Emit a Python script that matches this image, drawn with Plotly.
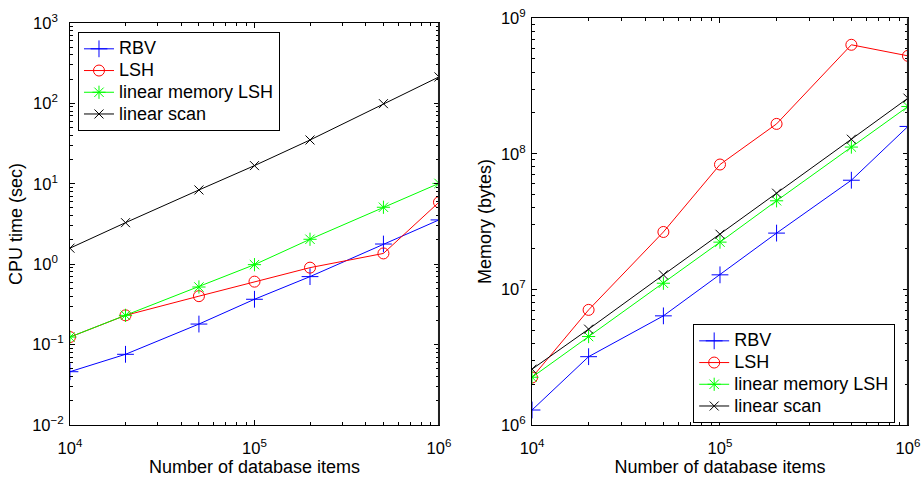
import plotly.graph_objects as go

items = [1e4, 2e4, 5e4, 1e5, 2e5, 5e5, 1e6]
series_names = ["RBV", "LSH", "linear memory LSH", "linear scan"]

cpu_rbv = [0.046, 0.0757, 0.18, 0.366, 0.70, 1.78, 3.55]
cpu_lsh = [0.124, 0.231, 0.40, 0.606, 0.905, 1.36, 5.89]
cpu_lmlsh = [0.124, 0.231, 0.52, 0.986, 2.04, 5.1, 10.1]
cpu_scan = [1.58, 3.28, 8.37, 16.8, 35.0, 99.0, 213.0]

mem_rbv = [1.29e6, 3.19e6, 6.38e6, 1.28e7, 2.6e7, 6.38e7, 1.59e8]
mem_lsh = [2.24e6, 7.06e6, 2.65e7, 8.33e7, 1.66e8, 6.36e8, 5.27e8]
mem_lmlsh = [2.25e6, 4.49e6, 1.11e7, 2.23e7, 4.5e7, 1.12e8, 2.23e8]
mem_scan = [2.58e6, 5.09e6, 1.28e7, 2.55e7, 5.12e7, 1.28e8, 2.57e8]

x_exps = [4, 5, 6]
cpu_exps = [-2, -1, 0, 1, 2, 3]
mem_exps = [6, 7, 8, 9]

colors = ["#0000FF", "#FF0000", "#00FF00", "#000000"]
symbols = ["cross-thin-open", "circle-open", "asterisk-open", "x-thin-open"]
sizes = [12, 11, 11, 9]


def legend_label(name):
    return '<span style="font-size:18px">%s</span>' % name


fig = go.Figure()
for i, (name, ys) in enumerate(zip(series_names, [cpu_rbv, cpu_lsh, cpu_lmlsh, cpu_scan])):
    fig.add_trace(go.Scatter(x=items, y=ys, name=legend_label(name), mode="lines+markers",
                             line=dict(color=colors[i], width=1),
                             marker=dict(symbol=symbols[i], size=sizes[i], color=colors[i],
                                         line=dict(color=colors[i], width=1)),
                             xaxis="x", yaxis="y", legend="legend"))
for i, (name, ys) in enumerate(zip(series_names, [mem_rbv, mem_lsh, mem_lmlsh, mem_scan])):
    fig.add_trace(go.Scatter(x=items, y=ys, name=legend_label(name), mode="lines+markers",
                             line=dict(color=colors[i], width=1),
                             marker=dict(symbol=symbols[i], size=sizes[i], color=colors[i],
                                         line=dict(color=colors[i], width=1)),
                             xaxis="x2", yaxis="y2", legend="legend2"))


def pow_ticks(exps, pad=False):
    texts = []
    for e in exps:
        s = str(e).replace("-", "\u2212")
        if pad and e >= 0:
            s = s + "\u2002"
        texts.append("10<sup>%s</sup>" % s)
    return dict(tickvals=[10.0 ** e for e in exps], ticktext=texts)


font = dict(family="Liberation Sans", size=16, color="black")
axis_common = dict(type="log", showgrid=False, zeroline=False, showline=True,
                   linecolor="black", linewidth=1, mirror="ticks", ticks="inside",
                   ticklen=5, tickcolor="black", automargin=False,
                   minor=dict(ticks="inside", ticklen=3, tickcolor="black", dtick="D1"),
                   tickfont=dict(size=16.5))
xt = dict(text="Number of database items", standoff=0, font=dict(size=18))

fig.update_layout(
    width=923, height=477,
    margin=dict(l=0, r=0, t=0, b=0),
    paper_bgcolor="white", plot_bgcolor="white",
    font=font,
    showlegend=True,
    xaxis=dict(axis_common, **pow_ticks(x_exps), domain=[0.0758, 0.4756], range=[4, 6], anchor="y",
               ticklabelstandoff=8, title=xt),
    yaxis=dict(axis_common, **pow_ticks(cpu_exps, pad=True), domain=[0.109, 0.952], range=[-2, 3],
               anchor="x", ticklabelstandoff=2,
               title=dict(text="CPU time (sec)", standoff=4, font=dict(size=18))),
    xaxis2=dict(axis_common, **pow_ticks(x_exps), domain=[0.5764, 0.9837], range=[4, 6], anchor="y2",
                ticklabelstandoff=8, title=xt),
    yaxis2=dict(axis_common, **pow_ticks(mem_exps), domain=[0.109, 0.962], range=[6, 9],
                anchor="x2", ticklabelstandoff=2,
                title=dict(text="Memory (bytes)", standoff=4, font=dict(size=18))),
    legend=dict(x=0.0845, y=0.933, xanchor="left", yanchor="top", bgcolor="white",
                bordercolor="black", borderwidth=1, font=dict(size=14.4),
                tracegroupgap=0, itemwidth=30),
    legend2=dict(x=0.751, y=0.3208, xanchor="left", yanchor="top", bgcolor="white",
                 bordercolor="black", borderwidth=1, font=dict(size=14.4),
                 tracegroupgap=0, itemwidth=30),
    shapes=[
        dict(type="line", xref="x domain", yref="y domain", x0=1, x1=1, y0=0, y1=1,
             line=dict(color="#222222", width=2), layer="above"),
        dict(type="line", xref="x2 domain", yref="y2 domain", x0=1, x1=1, y0=0, y1=1,
             line=dict(color="#222222", width=2), layer="above"),
    ],
)

fig.write_html("out.html")
